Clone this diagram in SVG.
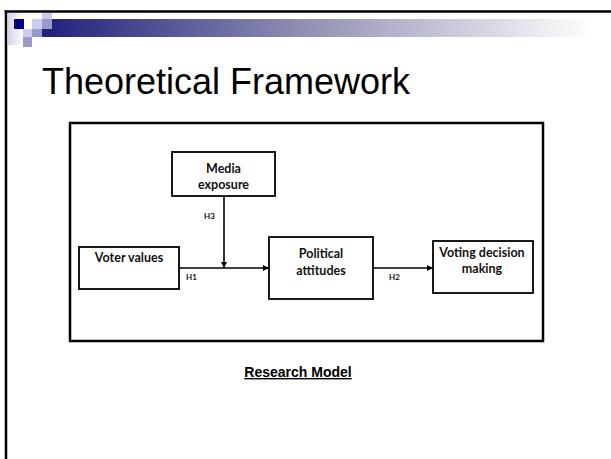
<svg xmlns="http://www.w3.org/2000/svg" width="611" height="459" viewBox="0 0 611 459">
  <defs>
    <linearGradient id="barFade" x1="0" y1="0" x2="1" y2="0">
      <stop offset="0" stop-color="#1f1f7e"/>
      <stop offset="0.45" stop-color="#8a8aae"/>
      <stop offset="1" stop-color="#ffffff"/>
    </linearGradient>
    <linearGradient id="edgeFade" x1="0" y1="0" x2="1" y2="0">
      <stop offset="0" stop-color="#d2d2ea"/>
      <stop offset="1" stop-color="#ffffff"/>
    </linearGradient>
    <marker id="arrowHead" markerUnits="userSpaceOnUse" markerWidth="7" markerHeight="6" refX="6" refY="3" orient="auto">
      <path d="M0,0 L6,3 L0,6 z" fill="#000"/>
    </marker>
    <style>
      .box { fill: #fff; stroke: #000; stroke-width: 1.8; }
      .node-text { font-family: Lato, "Open Sans", "Liberation Sans", sans-serif; font-weight: 700; font-size: 12.5px; fill: #111; text-anchor: middle; }
      .hyp { font-family: Lato, "Liberation Sans", sans-serif; font-weight: 700; font-size: 8px; fill: #111; }
      .link { stroke: #000; stroke-width: 1.6; fill: none; marker-end: url(#arrowHead); }
      .light { fill: #ccccee; }
      .mid { fill: #9999cc; }
    </style>
  </defs>

  <rect width="611" height="459" fill="#fff"/>

  <!-- slide frame: top and left rules -->
  <g id="frame" stroke="#000" stroke-width="2.5">
    <line x1="4.75" y1="11.5" x2="611" y2="11.5"/>
    <line x1="6" y1="10.25" x2="6" y2="459"/>
  </g>

  <!-- header pixel blocks and fading bar -->
  <g id="header">
    <rect x="7.5" y="13" width="16" height="32" fill="url(#edgeFade)"/>
    <rect x="42" y="19" width="550" height="18" fill="url(#barFade)"/>
    <rect x="14" y="19" width="10" height="10" fill="#000080"/>
    <rect class="light" x="32" y="19" width="10" height="10"/>
    <rect class="light" x="42" y="13" width="10" height="6"/>
    <rect class="mid" x="42" y="19" width="10" height="10"/>
    <rect class="light" x="23" y="29" width="9" height="8"/>
    <rect class="mid" x="32" y="29" width="10" height="8"/>
    <rect class="mid" x="23" y="37" width="9" height="10"/>
  </g>

  <text id="title" x="42" y="94" font-family="'Liberation Sans', Arial, sans-serif" font-size="36" fill="#000">Theoretical Framework</text>

  <!-- model frame -->
  <rect id="model-frame" x="70" y="123" width="473" height="218" fill="none" stroke="#000" stroke-width="2.5"/>

  <g id="connectors">
    <line class="link" x1="224" y1="196" x2="224" y2="268"/>
    <line class="link" x1="179" y1="268" x2="269" y2="268"/>
    <line class="link" x1="373" y1="268" x2="433" y2="268"/>
  </g>

  <g id="node-media">
    <rect class="box" x="172" y="152" width="103" height="44"/>
    <text class="node-text" x="223.5" y="173">Media</text>
    <text class="node-text" x="223.5" y="189">exposure</text>
  </g>

  <g id="node-voter">
    <rect class="box" x="79" y="247" width="100" height="42"/>
    <text class="node-text" x="129" y="262">Voter values</text>
  </g>

  <g id="node-political">
    <rect class="box" x="269" y="237" width="104" height="62"/>
    <text class="node-text" x="321" y="258">Political</text>
    <text class="node-text" x="321" y="275">attitudes</text>
  </g>

  <g id="node-voting">
    <rect class="box" x="433" y="241" width="100" height="52"/>
    <text class="node-text" x="482" y="257">Voting decision</text>
    <text class="node-text" x="482" y="273">making</text>
  </g>

  <g id="hypotheses">
    <text class="hyp" x="204" y="219">H3</text>
    <text class="hyp" x="186" y="280">H1</text>
    <text class="hyp" x="389" y="280">H2</text>
  </g>

  <text id="caption" x="298" y="377" text-anchor="middle" font-family="'Liberation Sans', Arial, sans-serif" font-weight="700" font-size="14" text-decoration="underline" fill="#000">Research Model</text>
</svg>
